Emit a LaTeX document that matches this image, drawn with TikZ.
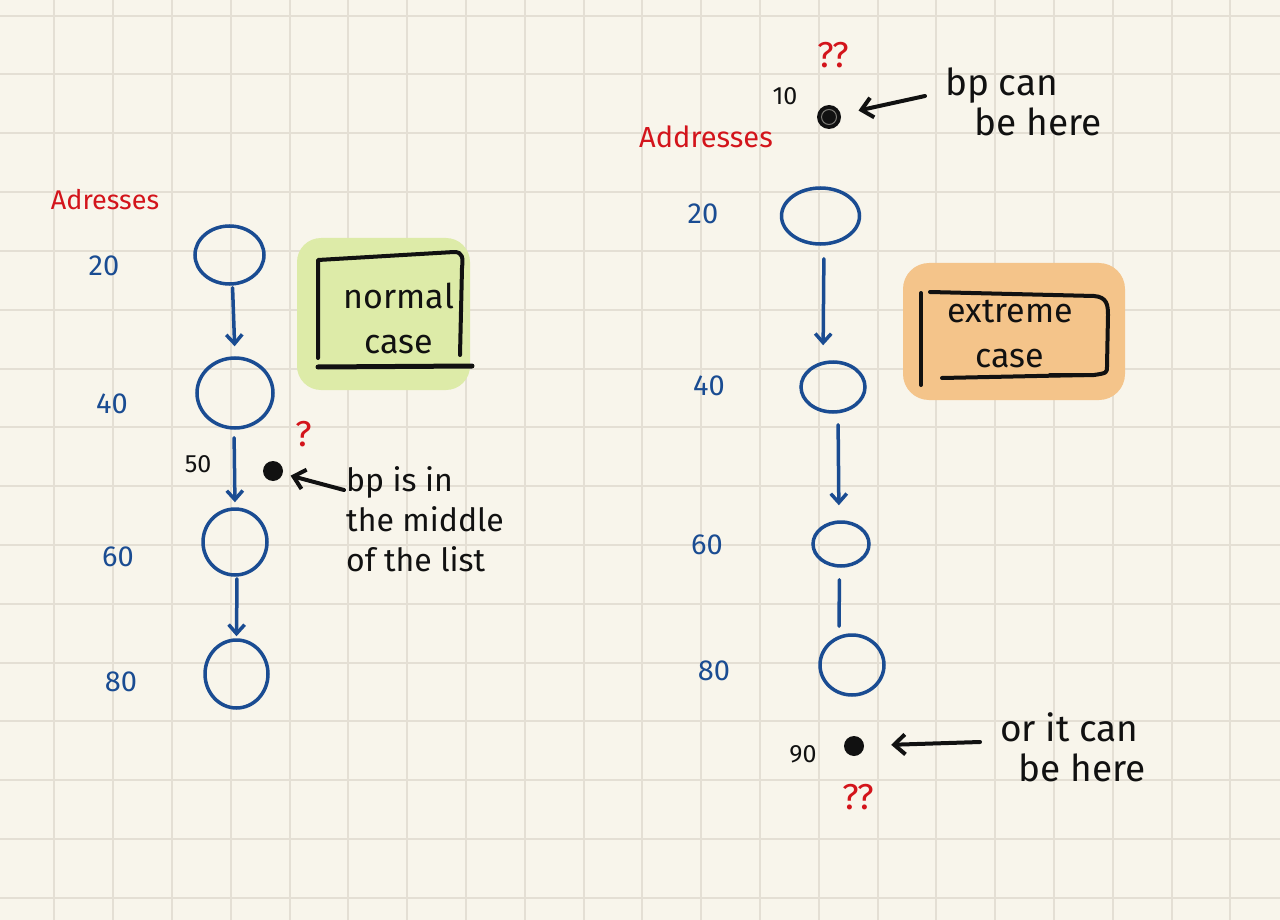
\documentclass[tikz,border=0pt]{standalone}
\usepackage{fontspec}
\setmainfont{Fira Sans}
\usetikzlibrary{shapes.geometric,arrows.meta}
\definecolor{paper}{HTML}{F8F5EB}
\definecolor{gridc}{HTML}{E4DFD4}
\definecolor{pen}{HTML}{1A4C92}
\definecolor{redpen}{HTML}{D3141B}
\definecolor{ink}{HTML}{111111}
\definecolor{hlgreen}{HTML}{DDEBA8}
\definecolor{hlorange}{HTML}{F4C48A}
\begin{document}
\begin{tikzpicture}[x=1pt,y=-1pt,
  gridline/.style={draw=gridc, line width=2pt},
  numlbl/.style={text=pen, font=\fontsize{29}{30}\selectfont, inner sep=0},
  addrlbl/.style={text=ink, font=\fontsize{25}{26}\selectfont, inner sep=0},
  heading/.style={text=redpen, font=\fontsize{27}{30}\selectfont, inner sep=0},
  qmark/.style={text=redpen, font=\fontsize{36}{38}\selectfont, inner sep=0},
  note/.style={text=ink, font=\fontsize{32}{40}\selectfont, align=left, inner sep=0},
  bignote/.style={note, font=\fontsize{37}{40}\selectfont},
  boxtext/.style={text=ink, font=\fontsize{34}{45}\selectfont, align=center, inner sep=0},
  cell/.style={ellipse, draw=pen, line width=3.5pt, inner sep=0},
  link/.style={draw=pen, line width=3.5pt, line cap=round, -{Straight Barb[length=9pt,width=16pt]}},
  plainlink/.style={draw=pen, line width=3.5pt, line cap=round},
  pointer/.style={draw=ink, line width=4pt, line cap=round, -{Straight Barb[length=11pt,width=20pt]}},
  bpdot/.style={circle, fill=ink, inner sep=0, minimum size=20pt},
  frame/.style={draw=ink, line width=4pt, line cap=round, line join=round}
]
\useasboundingbox (0,0) rectangle (1280,920);
\fill[paper] (0,0) rectangle (1280,920);
\foreach \i in {0,...,20} \draw[gridline] ({54.3+58.8*\i},0) -- ({54.3+58.8*\i},920);
\foreach \j in {0,...,15} \draw[gridline] (0,{15.7+58.8*\j}) -- (1280,{15.7+58.8*\j});

% ---------------- left: normal case ----------------
\fill[hlgreen, rounded corners=24pt] (297,238) rectangle (470,390);
\draw[frame] (318,358) -- (318,260) -- (454,252) .. controls (463,252) and (463,258) .. (462,268) -- (460,355);
\draw[frame, line width=5pt] (318,367) -- (472,366);
\node[boxtext] (normalcase) at (399,318) {normal\\case};

\node[heading] (leftaddr) at (105,200) {Adresses};

\node[cell, minimum width=69pt, minimum height=58pt] (L20) at (229.5,255) {};
\node[cell, minimum width=76pt, minimum height=70pt] (L40) at (235,393) {};
\node[cell, minimum width=64pt, minimum height=66pt] (L60) at (235,542) {};
\node[cell, minimum width=63pt, minimum height=68pt] (L80) at (236.5,674) {};

\node[numlbl] (l20) at (104,266) {20};
\node[numlbl] (l40) at (112,404) {40};
\node[addrlbl] (l50) at (198,464) {50};
\node[numlbl] (l60) at (118,557) {60};
\node[numlbl] (l80) at (121,682) {80};

\draw[link, shorten <=2pt, shorten >=10pt] ([xshift=3pt]L20.south) -- (L40.north);
\draw[link, shorten <=8pt, shorten >=5pt] ([xshift=-1pt]L40.south) -- (L60.north);
\draw[link, shorten <=2pt, shorten >=2pt] ([xshift=2pt]L60.south) -- (L80.north);

\node[bpdot] (D50) at (273,471) {};
\node[qmark] (q50) at (304,434) {?};
\node[note, anchor=north west] (midnote) at (346,466) {bp is in\\the middle\\of the list};
\coordinate (t50) at (344,490);
\draw[pointer, shorten >=8pt] (t50) -- (D50);

% ---------------- right: extreme case ----------------
\fill[hlorange, rounded corners=26pt] (903,263) rectangle (1125,400);
\draw[frame] (921,385) -- (921,293);
\draw[frame] (930,292) -- (1094,296) .. controls (1107,297) and (1108,305) .. (1108,315) -- (1107,366) .. controls (1107,373) .. (1094,375) -- (1050,375);
\draw[frame] (942,378) -- (1084,375);
\node[boxtext] (extremecase) at (1010,334) {extreme\\case};

\node[heading, font=\fontsize{29}{30}\selectfont] (rightaddr) at (706,137) {Addresses};

\node[cell, minimum width=78pt, minimum height=56pt] (R20) at (820.5,216) {};
\node[cell, minimum width=64pt, minimum height=50pt] (R40) at (833,387) {};
\node[cell, minimum width=56pt, minimum height=44pt] (R60) at (841,544) {};
\node[cell, minimum width=64pt, minimum height=60pt] (R80) at (852,665) {};

\node[addrlbl] (r10) at (785,96) {10};
\node[numlbl] (r20) at (703,214) {20};
\node[numlbl] (r40) at (709,386) {40};
\node[numlbl] (r60) at (707,545) {60};
\node[numlbl] (r80) at (714,671) {80};
\node[addrlbl] (r90) at (803,754) {90};

\draw[link, shorten <=13pt, shorten >=15pt] ([xshift=3.5pt]R20.south) -- ([xshift=-10pt]R40.north);
\draw[link, shorten <=11pt, shorten >=15pt] ([xshift=5pt]R40.south) -- ([xshift=-2pt]R60.north);
\draw[plainlink, shorten <=12pt, shorten >=7pt] ([xshift=-1.5pt]R60.south) -- ([xshift=-13pt]R80.north);

\node[bpdot, minimum size=24pt] (D10) at (829,117) {};
\draw[paper!45!ink, line width=1pt] (D10.center) circle (7.5pt);
\node[qmark] (q10) at (833,55) {??};
\node[bignote, anchor=north west] (topnote) at (945,68) {bp can\\\hspace*{0.8em}be here};
\coordinate (t10) at (925,96);
\draw[pointer, shorten >=18pt] (t10) -- (D10);

\node[bpdot] (D90) at (854,746) {};
\node[qmark] (q90) at (858,797) {??};
\node[bignote, anchor=north west] (botnote) at (1000,712) {or it can\\\hspace*{0.5em}be here};
\coordinate (t90) at (980,742);
\draw[pointer, shorten >=27pt] (t90) -- (D90);
\end{tikzpicture}
\end{document}
